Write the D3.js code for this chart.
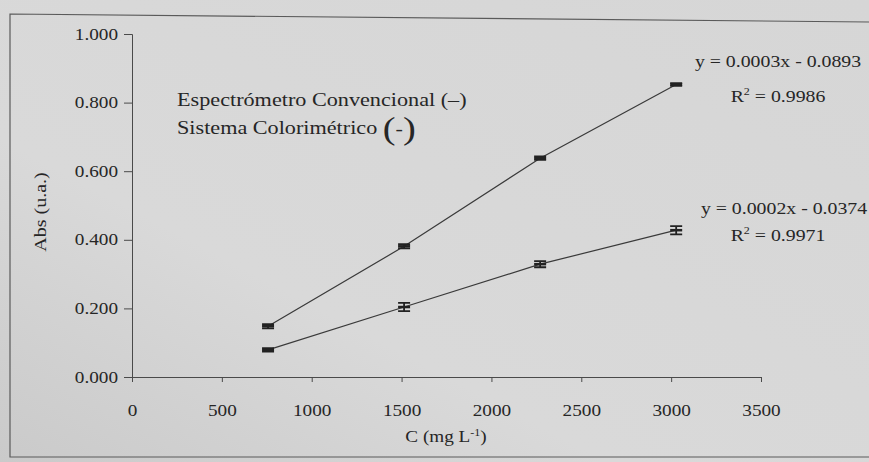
<!DOCTYPE html>
<html>
<head>
<meta charset="utf-8">
<script src="https://cdn.jsdelivr.net/npm/d3@7"></script>
<style>
  html, body { margin: 0; padding: 0; background: #d6d6d6; }
  svg { display: block; }
  text { font-family: "Liberation Serif", "Times New Roman", serif; fill: #262626; }
</style>
</head>
<body>
<svg id="chart" width="869" height="462"></svg>
<script>
// Calibration data: concentration (mg L-1) vs absorbance (u.a.)
const concentrations = [757, 1514, 2271, 3028];
const absConvencional = [0.148, 0.381, 0.638, 0.853];
const errConvencional = [0.006, 0.006, 0.005, 0.004];
const absColorimetrico = [0.079, 0.204, 0.329, 0.428];
const errColorimetrico = [0.005, 0.012, 0.009, 0.012];

const xTicks = [0, 500, 1000, 1500, 2000, 2500, 3000, 3500];
const yTicks = [0, 0.2, 0.4, 0.6, 0.8, 1.0];

const legendLabels = ["Espectrómetro Convencional", "Sistema Colorimétrico"];
const fitEquations = ["y = 0.0003x - 0.0893", "y = 0.0002x - 0.0374"];
const fitR2 = ["0.9986", "0.9971"];

const W = 869, H = 462;
const STRETCH = 1.2; // wide serif type of the printed figure
const ink = "#262626", axisInk = "#4a4a4a";

const svg = d3.select("#chart");

// paper background
const defs = svg.append("defs");
const grad = defs.append("linearGradient").attr("id", "paper")
  .attr("x1", "0").attr("y1", "1").attr("x2", "1").attr("y2", "0");
grad.append("stop").attr("offset", "0").attr("stop-color", "#cacaca");
grad.append("stop").attr("offset", "0.35").attr("stop-color", "#d9d9d9");
grad.append("stop").attr("offset", "1").attr("stop-color", "#d6d6d6");
svg.append("rect").attr("width", W).attr("height", H).attr("fill", "url(#paper)");

// figure frame
svg.append("path")
  .attr("d", "M869,22 L10,14 L10,457 L869,457")
  .attr("fill", "none").attr("stroke", "#5a5a5a").attr("stroke-width", 1.2);

const x = d3.scaleLinear().domain([0, 3500]).range([132, 761]);
const y = d3.scaleLinear().domain([0, 1]).range([377, 34]);

// y axis
const gy = svg.append("g").attr("transform", `translate(${x(0)},0)`)
  .call(d3.axisLeft(y).tickValues(yTicks).tickFormat(d3.format(".3f")).tickSize(8).tickPadding(6));
gy.select(".domain").attr("stroke", axisInk);
gy.selectAll(".tick line").attr("stroke", axisInk);
gy.selectAll(".tick text")
  .attr("x", null)
  .attr("transform", `translate(-14,0) scale(${STRETCH},1)`)
  .style("font-family", "Liberation Serif").style("font-size", "16px").attr("fill", ink);

// x axis
const gx = svg.append("g").attr("transform", `translate(0,${y(0)})`)
  .call(d3.axisBottom(x).tickValues(xTicks).tickFormat(d3.format("d")).tickSize(5).tickPadding(23));
gx.select(".domain").attr("stroke", axisInk);
gx.selectAll(".tick line").attr("stroke", axisInk);
gx.selectAll(".tick text")
  .attr("transform", `scale(${STRETCH},1)`)
  .style("font-family", "Liberation Serif").style("font-size", "16px").attr("fill", ink);

// axis titles
const yTitle = svg.append("text")
  .attr("transform", `translate(46,212) rotate(-90) scale(1.25,1)`)
  .attr("text-anchor", "middle").style("font-size", "16px");
yTitle.text("Abs (u.a.)");

const xTitle = svg.append("text")
  .attr("transform", `translate(446,442) scale(${STRETCH},1)`)
  .attr("text-anchor", "middle").style("font-size", "16px");
xTitle.append("tspan").text("C (mg L");
xTitle.append("tspan").attr("dy", -6).style("font-size", "10px").text("-1");
xTitle.append("tspan").attr("dy", 6).text(")");

// series
const series = [
  { values: absConvencional, errors: errConvencional },
  { values: absColorimetrico, errors: errColorimetrico }
];

const line = d3.line().x(d => x(d.c)).y(d => y(d.v));

series.forEach(s => {
  const pts = concentrations.map((c, i) => ({ c, v: s.values[i], e: s.errors[i] }));

  svg.append("path").datum(pts)
    .attr("d", line)
    .attr("fill", "none").attr("stroke", "#3a3a3a").attr("stroke-width", 1.2);

  const g = svg.append("g");
  // error bars with caps
  g.selectAll(".err").data(pts).join("path")
    .attr("d", d => {
      const cx = x(d.c), y0 = y(d.v - d.e), y1 = y(d.v + d.e);
      return `M${cx},${y0}V${y1}M${cx - 6},${y0}H${cx + 6}M${cx - 6},${y1}H${cx + 6}`;
    })
    .attr("fill", "none").attr("stroke", "#222").attr("stroke-width", 1.8);
  // dash markers
  g.selectAll(".mk").data(pts).join("rect")
    .attr("x", d => x(d.c) - 6).attr("y", d => y(d.v) - 1.25)
    .attr("width", 12).attr("height", 2.5)
    .attr("fill", "#222");
});

// legend
const leg1 = svg.append("text")
  .attr("transform", `translate(177,106) scale(${STRETCH},1)`)
  .style("font-size", "18.5px");
leg1.text(legendLabels[0] + " (–)");

const leg2 = svg.append("text")
  .attr("transform", `translate(177,134) scale(${STRETCH},1)`)
  .style("font-size", "18.5px");
leg2.append("tspan").text(legendLabels[1] + " ");
leg2.append("tspan").style("font-size", "32px").attr("dy", 5).text("(");
leg2.append("tspan").style("font-size", "18.5px").attr("dy", -4).text("-");
leg2.append("tspan").style("font-size", "32px").attr("dy", 4).text(")");

// regression equations
const eqPos = [
  { cx: 778, y1: 67, y2: 102 },
  { cx: 784, y1: 214, y2: 241 }
];
fitEquations.forEach((eq, i) => {
  const p = eqPos[i];
  svg.append("text")
    .attr("transform", `translate(${p.cx},${p.y1}) scale(${STRETCH},1)`)
    .attr("text-anchor", "middle").style("font-size", "16.5px")
    .text(eq);
  const r = svg.append("text")
    .attr("transform", `translate(${778},${p.y2}) scale(${STRETCH},1)`)
    .attr("text-anchor", "middle").style("font-size", "16.5px");
  r.append("tspan").text("R");
  r.append("tspan").attr("dy", -7).style("font-size", "10px").text("2");
  r.append("tspan").attr("dy", 7).text(" = " + fitR2[i]);
});
</script>
</body>
</html>
